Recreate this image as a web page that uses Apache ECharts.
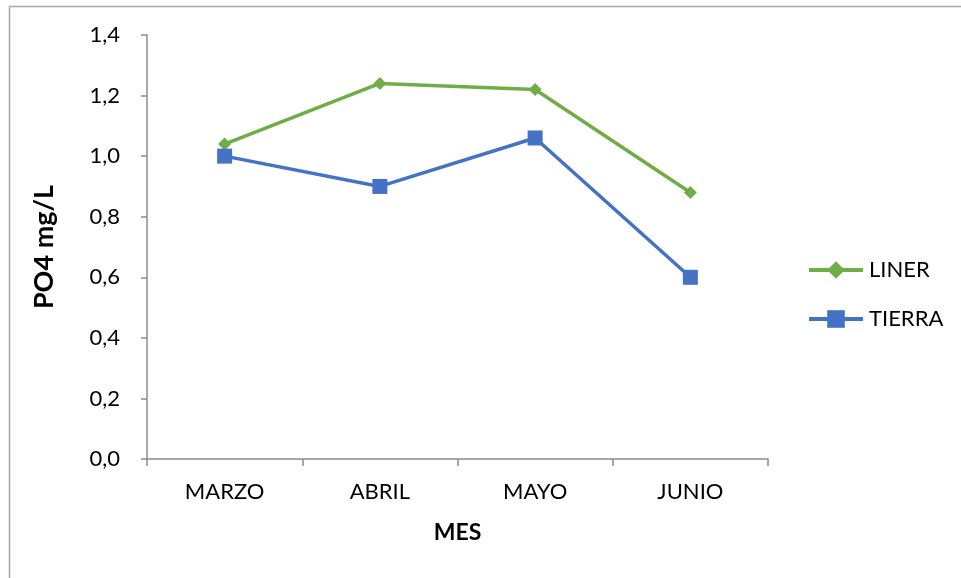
<!DOCTYPE html>
<html>
<head>
<meta charset="utf-8">
<script src="https://cdn.jsdelivr.net/npm/echarts@6/dist/echarts.min.js"></script>
<style>
html,body{margin:0;padding:0;background:#fff;}
#chart{width:961px;height:578px;}
</style>
</head>
<body>
<div id="chart"></div>
<script>
const categories = ['MARZO', 'ABRIL', 'MAYO', 'JUNIO'];
const linerValues = [1.04, 1.24, 1.22, 0.88];
const tierraValues = [1.00, 0.90, 1.06, 0.60];
const yTicks = [0, 0.2, 0.4, 0.6, 0.8, 1.0, 1.2, 1.4];

const FONT = 'Lato, "Open Sans", sans-serif';
const axisGray = '#8c8c8c';

const chart = echarts.init(document.getElementById('chart'), null, {renderer: 'canvas'});
chart.setOption({
  backgroundColor: '#fff',
  animation: false,
  textStyle: {fontFamily: FONT},
  graphic: [{
    type: 'rect',
    shape: {x: 9.5, y: 6.5, width: 1200, height: 1200},
    style: {fill: 'none', stroke: '#a6a6a6', lineWidth: 1.5},
    silent: true
  }],
  grid: {left: 147, right: 193, top: 35, bottom: 119, containLabel: false},
  legend: {
    orient: 'vertical',
    left: 802,
    top: 254,
    padding: 5,
    itemWidth: 54,
    itemHeight: 22,
    itemGap: 27,
    lineStyle: {width: 4},
    textStyle: {fontFamily: FONT, fontSize: 22, color: '#000', padding: [0, 0, 0, 1]},
    data: ['LINER', 'TIERRA']
  },
  xAxis: {
    type: 'category',
    data: categories,
    boundaryGap: true,
    name: 'MES',
    nameLocation: 'middle',
    nameGap: 62,
    nameTextStyle: {fontFamily: FONT, fontSize: 23, fontWeight: 'bold', color: '#000'},
    axisLine: {lineStyle: {color: axisGray, width: 1.5}},
    axisTick: {show: true, length: 7, lineStyle: {color: axisGray, width: 1.5}},
    axisLabel: {fontFamily: FONT, fontSize: 22, color: '#000', margin: 22},
    splitLine: {show: false}
  },
  yAxis: {
    type: 'value',
    min: 0,
    max: 1.4,
    interval: 0.2,
    name: 'PO4 mg/L',
    nameLocation: 'middle',
    nameGap: 89,
    nameRotate: 90,
    nameTextStyle: {fontFamily: FONT, fontSize: 27, fontWeight: 'bold', color: '#000'},
    axisLine: {show: true, lineStyle: {color: axisGray, width: 1.5}},
    axisTick: {show: true, length: 6, lineStyle: {color: axisGray, width: 1.5}},
    axisLabel: {
      fontFamily: FONT, fontSize: 22, color: '#000', margin: 27,
      formatter: v => yTicks.includes(Math.round(v * 10) / 10) ? v.toFixed(1).replace('.', ',') : ''
    },
    splitLine: {show: false}
  },
  series: [
    {
      name: 'LINER',
      type: 'line',
      data: linerValues,
      symbol: 'diamond',
      symbolSize: 13,
      lineStyle: {color: '#70ad47', width: 3.5},
      itemStyle: {color: '#70ad47'},
      z: 3
    },
    {
      name: 'TIERRA',
      type: 'line',
      data: tierraValues,
      symbol: 'rect',
      symbolSize: 15,
      lineStyle: {color: '#4472c4', width: 3.5},
      itemStyle: {color: '#4472c4'},
      z: 4
    }
  ]
});
</script>
</body>
</html>
